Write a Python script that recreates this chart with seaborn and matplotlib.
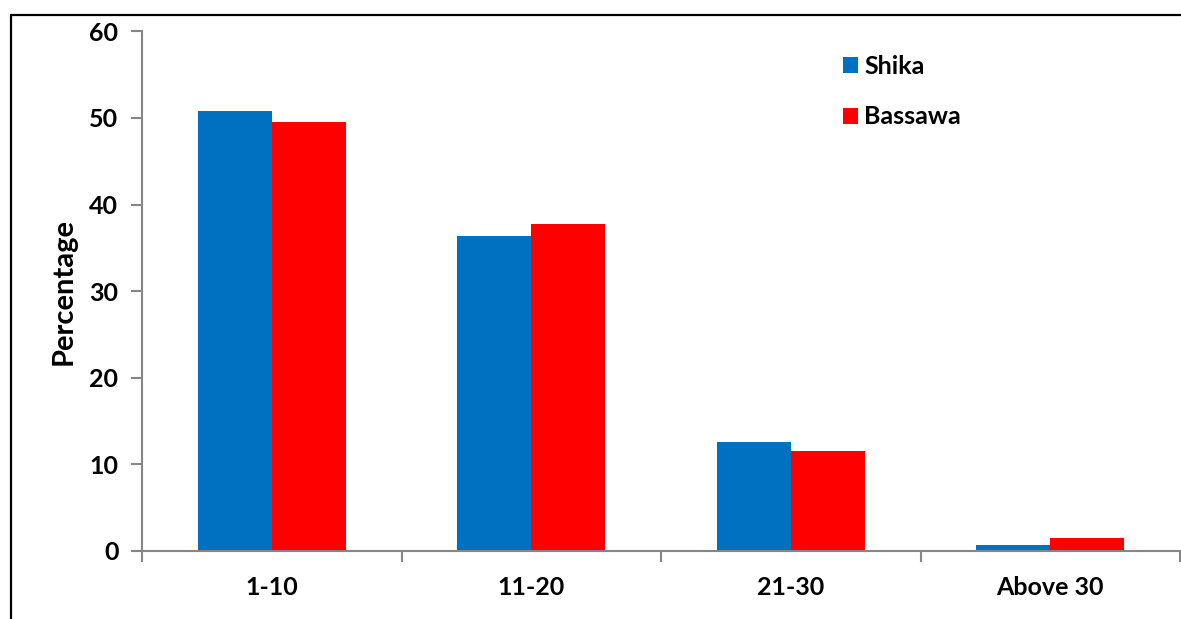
import matplotlib
matplotlib.use("Agg")
import matplotlib.pyplot as plt
from matplotlib.lines import Line2D
from matplotlib.patches import Patch
import seaborn as sns
import pandas as pd

categories = ["1-10", "11-20", "21-30", "Above 30"]
series_names = ["Shika", "Bassawa"]
shika = [50.8, 36.4, 12.6, 0.7]
bassawa = [49.5, 37.8, 11.6, 1.5]
colors = ["#0070C0", "#FF0000"]
y_ticks = [0, 10, 20, 30, 40, 50, 60]

df = pd.DataFrame({
    "Category": categories * 2,
    "Series": [series_names[0]] * len(categories) + [series_names[1]] * len(categories),
    "Value": shika + bassawa,
})

sns.set_theme(style="white")
plt.rcParams["font.family"] = ["Lato", "DejaVu Sans"]
plt.rcParams["font.weight"] = "bold"
plt.rcParams["text.color"] = "black"
plt.rcParams["axes.labelcolor"] = "black"
plt.rcParams["xtick.labelcolor"] = "black"
plt.rcParams["ytick.labelcolor"] = "black"

W, H = 1181, 619
fig = plt.figure(figsize=(W / 100, H / 100), dpi=100)
ax = fig.add_axes([142 / W, (H - 551) / H, (1180 - 142) / W, (551 - 31.3) / H])

sns.barplot(data=df, x="Category", y="Value", hue="Series", order=categories,
            hue_order=series_names, palette=colors, width=0.57, saturation=1,
            legend=False, ax=ax, linewidth=0)

ax.set_xlim(-0.5, len(categories) - 0.5)
ax.set_ylim(0, 60)
ax.set_yticks(y_ticks)
ax.set_yticklabels([str(t) for t in y_ticks], fontsize=18, fontweight="bold", color="black")
ax.set_xticks(range(len(categories)))
ax.set_xticklabels(categories, fontsize=18, fontweight="bold", color="black")
ax.set_xticks([i - 0.5 for i in range(len(categories) + 1)], minor=True)
ax.tick_params(axis="x", which="major", length=0, pad=18)
ax.tick_params(axis="x", which="minor", length=8, width=1.5, color="#868686", bottom=True)
ax.tick_params(axis="y", length=8, width=1.5, color="#868686", left=True, pad=9)
ax.set_xlabel("")
ax.set_ylabel("Percentage", fontsize=21, fontweight="bold", labelpad=9, color="black")

for s in ["top", "right"]:
    ax.spines[s].set_visible(False)
for s in ["left", "bottom"]:
    ax.spines[s].set_color("#868686")
    ax.spines[s].set_linewidth(1.5)

handles = [Patch(facecolor=c, edgecolor="none") for c in colors]
fig.legend(handles, series_names, loc="upper left", bbox_to_anchor=(843 / W, 1 - 55 / H),
           frameon=False, prop={"weight": "bold", "size": 18},
           handlelength=0.6, handleheight=0.6, handletextpad=0.25, labelspacing=1.1,
           borderpad=0, borderaxespad=0, labelcolor="black")

fig.add_artist(Line2D([11 / W, 11 / W], [0, 1 - 15 / H], transform=fig.transFigure,
                      color="black", lw=1.6))
fig.add_artist(Line2D([11 / W, 1], [1 - 15 / H, 1 - 15 / H], transform=fig.transFigure,
                      color="black", lw=1.6))

fig.savefig("out.png", dpi=100)
